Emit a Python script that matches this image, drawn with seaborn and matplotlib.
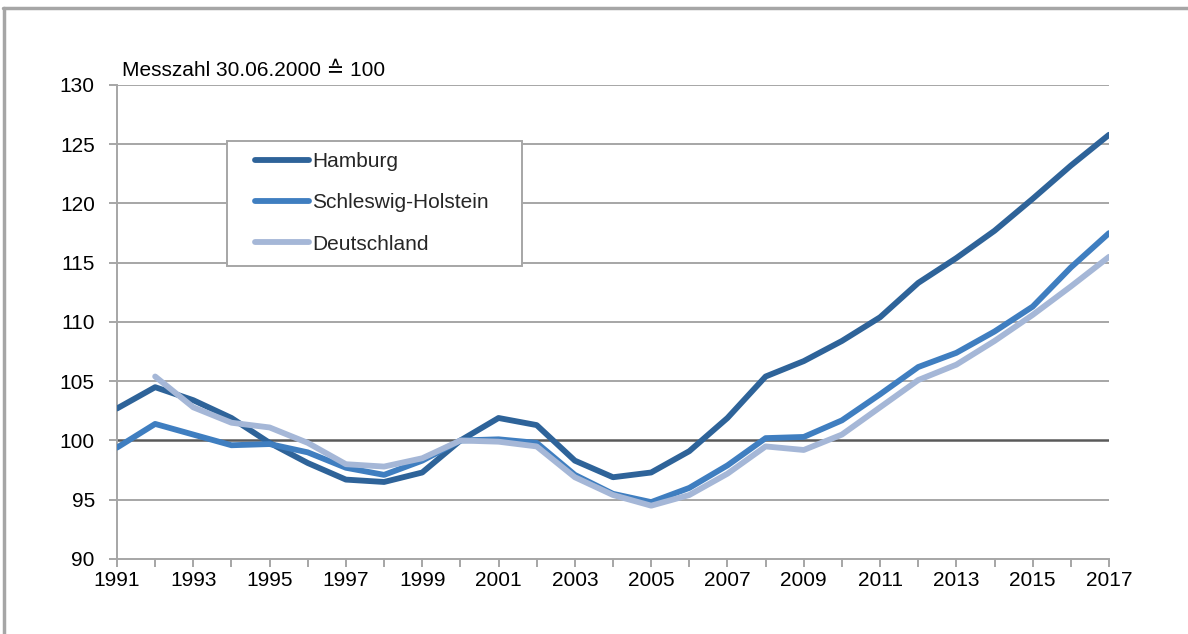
import matplotlib
matplotlib.use("Agg")
import matplotlib.pyplot as plt
from matplotlib.lines import Line2D
from matplotlib.patches import Rectangle
import numpy as np
import pandas as pd
import seaborn as sns

years = list(range(1991, 2018))
hamburg = [102.7, 104.5, 103.4, 101.9, 99.8, 98.1, 96.7, 96.5, 97.3, 100.0,
           101.9, 101.3, 98.3, 96.9, 97.3, 99.1, 101.9, 105.4, 106.7, 108.4,
           110.4, 113.3, 115.4, 117.7, 120.4, 123.2, 125.8]
schleswig_holstein = [99.4, 101.4, 100.5, 99.6, 99.7, 99.0, 97.7, 97.1, 98.3, 100.0,
                      100.1, 99.8, 97.1, 95.5, 94.8, 96.0, 97.9, 100.2, 100.3, 101.7,
                      103.9, 106.2, 107.4, 109.2, 111.3, 114.6, 117.5]
deutschland = [np.nan, 105.4, 102.8, 101.5, 101.1, 99.8, 98.0, 97.8, 98.5, 100.0,
               99.9, 99.5, 96.9, 95.4, 94.5, 95.4, 97.2, 99.5, 99.2, 100.5,
               102.8, 105.1, 106.4, 108.4, 110.6, 113.0, 115.5]

series_names = ["Hamburg", "Schleswig-Holstein", "Deutschland"]
series_colors = ["#2E6399", "#3F7EC0", "#A5B7D7"]
y_ticks = [90, 95, 100, 105, 110, 115, 120, 125, 130]
x_labels = [str(y) if (y - 1991) % 2 == 0 else "" for y in years]
unit_note = "Messzahl 30.06.2000 \u2259 100"

df = pd.DataFrame({
    "Jahr": years * 3,
    "Wert": hamburg + schleswig_holstein + deutschland,
    "Region": sum([[n] * len(years) for n in series_names], []),
}).dropna()

sns.set_theme(style="white")
plt.rcParams["font.family"] = ["Liberation Sans", "DejaVu Sans"]

FS = 15
LW = 4.2
grey = "#A6A6A6"
W, H = 1188, 634
fig = plt.figure(figsize=(W / 100, H / 100), dpi=100)
ax = fig.add_axes([117 / W, 1 - 559 / H, 992 / W, 474 / H])

# horizontal gridlines, with the 100 base line emphasised
for v in y_ticks[1:]:
    ax.axhline(v, color="#5A5A5A" if v == 100 else grey,
               lw=1.8 if v == 100 else 1.4, zorder=1)

sns.lineplot(data=df, x="Jahr", y="Wert", hue="Region", hue_order=series_names,
             palette=series_colors, linewidth=LW, ax=ax, legend=False,
             solid_capstyle="round", solid_joinstyle="round", zorder=3)

ax.set_xlim(1991, 2017)
ax.set_ylim(90, 130)
ax.set_xticks(years)
ax.set_xticklabels(x_labels)
ax.set_yticks(y_ticks)
ax.set_xlabel("")
ax.set_ylabel("")

for side in ["top", "right"]:
    ax.spines[side].set_visible(False)
for side in ["left", "bottom"]:
    ax.spines[side].set_color(grey)
    ax.spines[side].set_linewidth(1.4)
ax.tick_params(axis="y", which="major", left=True, length=6, width=1.4,
               color=grey, pad=10, labelsize=FS, labelcolor="#000000")
ax.tick_params(axis="x", which="major", bottom=True, length=6, width=1.4,
               color=grey, pad=3, labelsize=FS, labelcolor="#000000")

ax.text(122 / W, 1 - 70 / H, unit_note, transform=fig.transFigure,
        fontsize=FS, va="center", ha="left", color="#000000")

# legend box with its own frame
box = Rectangle((227 / W, 1 - 266 / H), (522 - 227) / W, (266 - 141) / H,
                transform=fig.transFigure, facecolor="white", edgecolor=grey,
                lw=1.4, zorder=4)
fig.add_artist(box)
handles = [Line2D([0], [0], color=c, lw=LW, solid_capstyle="round")
           for c in series_colors]
leg = fig.legend(handles, series_names, loc="upper left",
                 bbox_to_anchor=(255 / W, 1 - 152 / H),
                 frameon=False, fontsize=FS, handlelength=2.6,
                 handletextpad=0.15, labelspacing=1.07, borderpad=0,
                 borderaxespad=0)
leg.set_zorder(5)

# outer frame around the figure (top and left edges)
fig.add_artist(Line2D([3 / W, 1], [1 - 8 / H, 1 - 8 / H],
                      transform=fig.transFigure, color=grey, lw=2.5))
fig.add_artist(Line2D([4 / W, 4 / W], [0, 1 - 8 / H],
                      transform=fig.transFigure, color=grey, lw=2.5))

fig.savefig("out.png", dpi=100)
